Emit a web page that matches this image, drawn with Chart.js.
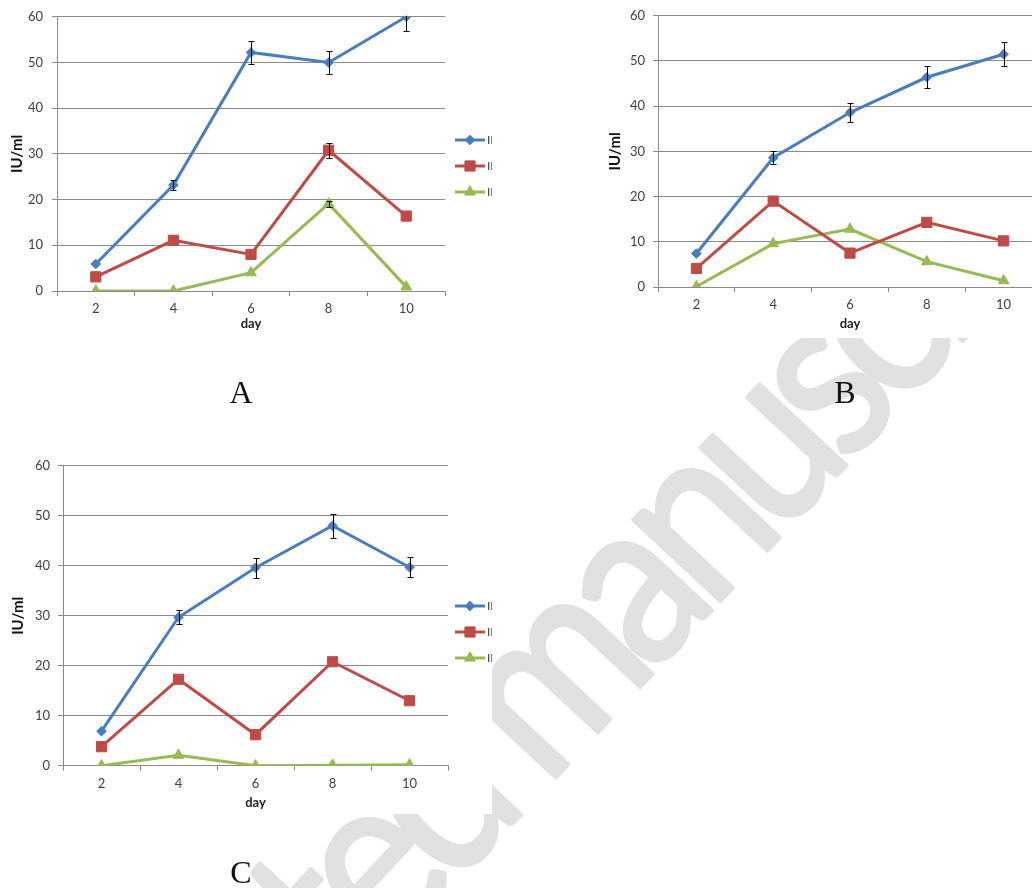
<!DOCTYPE html>
<html>
<head>
<meta charset="utf-8">
<script src="https://cdn.jsdelivr.net/npm/chart.js@4.4.1/dist/chart.umd.min.js"></script>
<style>
html,body{margin:0;padding:0;background:#fff;overflow:hidden;width:1032px;height:888px}
#wm{position:absolute;left:0;top:0}
.box{position:absolute;background:#fff}
.box canvas{display:block}
.lbl{position:absolute;font-family:"Liberation Serif",serif;font-size:32px;color:#111;transform:translate(-50%,-50%);line-height:1}
</style>
</head>
<body>
<canvas id="wm" width="1032" height="888"></canvas>
<div class="box" style="left:0;top:0"><canvas id="chartA" width="492" height="340"></canvas></div>
<div class="box" style="left:600px;top:0"><canvas id="chartB" width="500" height="338"></canvas></div>
<div class="box" style="left:0;top:450px"><canvas id="chartC" width="492" height="364"></canvas></div>
<div class="lbl" style="left:241px;top:392px">A</div>
<div class="lbl" style="left:845px;top:392px">B</div>
<div class="lbl" style="left:241px;top:872px">C</div>
<script>
// days on the x axis
const days=['2','4','6','8','10']
const yTicks=[0,10,20,30,40,50,60]
const seriesNames=['II','II','II']

// panel A
const aBlue=[5.9,23.2,52.2,50.0,60.0]
const aRed=[3.1,11.1,8.0,30.8,16.4]
const aGreen=[0,0,4.0,19.1,0.9]
const aBlueErr=[0,1.1,2.6,2.5,3.1]
const aRedErr=[0,0,0,1.6,0]
const aGreenErr=[0,0,0,0.7,0]

// panel B
const bBlue=[7.4,28.6,38.6,46.4,51.5]
const bRed=[4.1,19.0,7.5,14.3,10.2]
const bGreen=[0.1,9.6,12.8,5.6,1.4]
const bBlueErr=[0,1.4,2.0,2.4,2.6]
const bRedErr=[0,0,0,0,0]
const bGreenErr=[0,0,0,0,0]

// panel C
const cBlue=[6.9,29.7,39.6,48.0,39.7]
const cRed=[3.8,17.3,6.2,20.8,13.0]
const cGreen=[0,2.1,0,0.1,0.2]
const cBlueErr=[0,1.4,2.0,2.4,2.0]
const cRedErr=[0,0,0,0,0]
const cGreenErr=[0,0,0,0,0]

const colors=['#4a7ebb','#be4b48','#98b954']
const markers=[{style:'rectRot',r:4.8},{style:'rect',r:7.2},{style:'triangle',r:6.2}]
const font='Lato'
const grey='#8a8a8a'

// watermark behind the panels, placed by the centre of its "s"
function drawWatermark(){
const c=document.getElementById('wm').getContext('2d')
const text='Accepted manuscript'
const em=235
const spacing=-18
c.save()
c.fillStyle='#e1e1e1'
c.strokeStyle='#e1e1e1'
c.lineWidth=4
c.lineJoin='round'
c.font=em+'px '+font
let pos=[],x=0
for(const ch of text){pos.push(x);x+=c.measureText(ch).width+spacing}
const si=text.indexOf('manu')+4
const sc=pos[si]+c.measureText('s').width/2
c.translate(833,393)
c.rotate(-47*Math.PI/180)
c.scale(0.88,1)
c.textAlign='left'
;[...text].forEach((ch,i)=>{
c.fillText(ch,pos[i]-sc,em*0.253)
c.strokeText(ch,pos[i]-sc,em*0.253)
})
c.restore()
}

const errorBars={
id:'errorBars',
afterDatasetsDraw(chart,args,opts){
const ctx=chart.ctx
const area=chart.chartArea
const y=chart.scales.y
ctx.save()
ctx.beginPath()
ctx.rect(area.left,area.top-1,area.right-area.left,area.bottom-area.top+2)
ctx.clip()
ctx.strokeStyle='#000'
ctx.lineWidth=1
chart.data.datasets.forEach((ds,i)=>{
const meta=chart.getDatasetMeta(i)
const errs=opts.values[i]
meta.data.forEach((pt,j)=>{
const e=errs[j]
if(!e) return
const x=Math.round(pt.x)+0.5
const t=Math.round(y.getPixelForValue(ds.data[j]+e))+0.5
const b=Math.round(y.getPixelForValue(ds.data[j]-e))+0.5
ctx.beginPath()
ctx.moveTo(x,t);ctx.lineTo(x,b)
ctx.moveTo(x-3,t);ctx.lineTo(x+3,t)
ctx.moveTo(x-3,b);ctx.lineTo(x+3,b)
ctx.stroke()
})
})
ctx.restore()
}
}

// excel style legend: line with marker, then the label
const lineLegend={
id:'lineLegend',
afterDraw(chart,args,opts){
const ctx=chart.ctx
const n=chart.data.datasets.length
const y0=opts.centerY-(n-1)*opts.gap/2
ctx.save()
chart.data.datasets.forEach((ds,i)=>{
const y=y0+i*opts.gap
ctx.strokeStyle=ds.borderColor
ctx.fillStyle=ds.borderColor
ctx.lineWidth=3
ctx.beginPath()
ctx.moveTo(opts.x,y);ctx.lineTo(opts.x+30,y)
ctx.stroke()
ctx.lineWidth=1
Chart.helpers.drawPoint(ctx,{pointStyle:ds.pointStyle,radius:ds.pointRadius,rotation:0,borderWidth:1},opts.x+15,y)
ctx.fillStyle='#404040'
ctx.font='12px '+font
ctx.textBaseline='middle'
ctx.fillText(ds.label,opts.x+32,y)
})
ctx.restore()
}
}

function makeChart(id,series,errs,g){
const datasets=series.map((d,i)=>({
label:seriesNames[i],
data:d,
borderColor:colors[i],
backgroundColor:colors[i],
borderWidth:3,
tension:0,
pointStyle:markers[i].style,
pointRadius:markers[i].r,
pointBorderWidth:1,
pointBackgroundColor:colors[i],
pointBorderColor:colors[i]
}))
return new Chart(document.getElementById(id),{
type:'line',
data:{labels:days,datasets:datasets},
options:{
responsive:false,
animation:false,
layout:{padding:{left:0,top:g.top,right:g.right,bottom:0}},
plugins:{
legend:{display:false},
tooltip:{enabled:false},
errorBars:{values:errs},
lineLegend:{x:g.legX,centerY:g.legY,gap:26}
},
scales:{
x:{
offset:true,
grid:{offset:true,drawOnChartArea:false,tickLength:5,color:grey},
border:{color:grey},
ticks:{padding:g.xPad,color:'#404040',font:{family:font,size:13}},
title:{display:true,text:'day',color:'#222',font:{family:font,size:13,weight:'bold'},padding:{top:0,bottom:g.titleB}},
afterFit(s){s.height=g.xH}
},
y:{
min:0,max:60,
afterBuildTicks(s){s.ticks=yTicks.map(v=>({value:v}))},
grid:{color:grey,tickLength:5},
border:{color:grey},
ticks:{padding:g.yPad,color:'#404040',font:{family:font,size:13}},
title:{display:true,text:'IU/ml',color:'#111',font:{family:font,size:15,weight:'bold'},padding:{top:g.titleL,bottom:0}},
afterFit(s){s.width=g.yW}
}
}
},
plugins:[errorBars,lineLegend]
})
}

drawWatermark()
makeChart('chartA',[aBlue,aRed,aGreen],[aBlueErr,aRedErr,aGreenErr],
{top:13,right:47,xH:49,xPad:5,titleB:8,yW:57,yPad:9,titleL:8,legX:455,legY:166})
makeChart('chartB',[bBlue,bRed,bGreen],[bBlueErr,bRedErr,bGreenErr],
{top:11.7,right:58,xH:51,xPad:5,titleB:6,yW:58,yPad:8,titleL:6,legX:455,legY:166})
makeChart('chartC',[cBlue,cRed,cGreen],[cBlueErr,cRedErr,cGreenErr],
{top:12.7,right:44,xH:48.3,xPad:5.5,titleB:3,yW:63,yPad:8,titleL:9,legX:455,legY:182})
</script>
</body>
</html>
